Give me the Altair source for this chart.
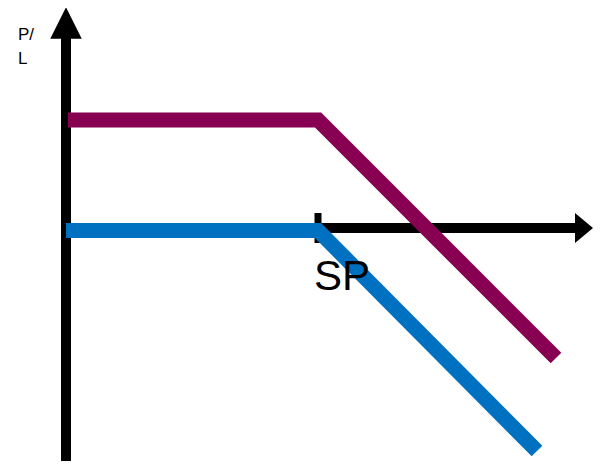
import altair as alt
import pandas as pd

# ---- data (abstract payoff units) ----
SP = 50.4
PURPLE_X = [0.4, SP, 98.0]
PURPLE_Y = [21.6, 21.6, -26.0]
BLUE_X = [0.0, SP, 94.2]
BLUE_Y = [-0.5, -0.5, -44.6]

Y_AXIS_Y = [-48.0, 38.0]      # vertical axis line (at x = 0)
X_AXIS_X = [SP, 102.0]        # horizontal axis line (at y = 0)
TICK_Y = [-3.0, 3.0]          # strike tick (at x = SP)
Y_ARROW = (0.0, 41.0)
X_ARROW = (103.6, 0.0)

Y_LABEL = ["P/", "L"]
X_LABEL = "SP"

W, H = 585, 453
xs = alt.Scale(domain=[-11.6, 105.4], zero=False, nice=False)
ys = alt.Scale(domain=[-46.6, 44.0], zero=False, nice=False)

lines = pd.DataFrame({
    "x": PURPLE_X + BLUE_X,
    "y": PURPLE_Y + BLUE_Y,
    "s": ["purple"] * 3 + ["blue"] * 3,
    "o": [0, 1, 2, 0, 1, 2],
})

yaxis_df = pd.DataFrame({"x": [0.0], "y": [Y_AXIS_Y[0]], "y2": [Y_AXIS_Y[1]]})
xaxis_df = pd.DataFrame({"x": [X_AXIS_X[0]], "x2": [X_AXIS_X[1]], "y": [0.0]})
tick_df = pd.DataFrame({"x": [SP], "y": [TICK_Y[0]], "y2": [TICK_Y[1]]})
yarrow_df = pd.DataFrame({"x": [Y_ARROW[0]], "y": [Y_ARROW[1]]})
xarrow_df = pd.DataFrame({"x": [X_ARROW[0]], "y": [X_ARROW[1]]})

X = lambda: alt.X("x:Q", scale=xs, axis=None)
Y = lambda: alt.Y("y:Q", scale=ys, axis=None)

yaxis = alt.Chart(yaxis_df).mark_rule(color="black", strokeWidth=10).encode(
    x=X(), y=Y(), y2="y2:Q")
xaxis = alt.Chart(xaxis_df).mark_rule(color="black", strokeWidth=10).encode(
    x=X(), x2="x2:Q", y=Y())
tick = alt.Chart(tick_df).mark_rule(color="black", strokeWidth=7).encode(
    x=X(), y=Y(), y2="y2:Q")
yarrow = alt.Chart(yarrow_df).mark_point(
    shape="M0,-1L-1,1L1,1Z", size=992, filled=True, color="black", opacity=1, strokeWidth=0
).encode(x=X(), y=Y())
xarrow = alt.Chart(xarrow_df).mark_point(
    shape="M0.6,0L-0.6,-1L-0.6,1Z", size=900, filled=True, color="black", opacity=1, strokeWidth=0
).encode(x=X(), y=Y())

payoff = alt.Chart(lines).mark_line(strokeWidth=15, strokeCap="butt", strokeJoin="miter").encode(
    x=X(), y=Y(),
    color=alt.Color("s:N", scale=alt.Scale(domain=["purple", "blue"], range=["#880052", "#0070C0"]), legend=None),
    order="o:Q",
)

sp_label = alt.Chart(pd.DataFrame({"t": [X_LABEL]})).mark_text(
    font="Liberation Sans", fontSize=42, align="left", baseline="alphabetic", color="black"
).encode(text="t:N", x=alt.value(306), y=alt.value(282))

pl_label = alt.Chart(pd.DataFrame({"t": [Y_LABEL]})).mark_text(
    font="Liberation Sans", fontSize=17, align="left", baseline="alphabetic", color="black", lineHeight=24
).encode(text="t", x=alt.value(10), y=alt.value(32))

chart = alt.layer(yaxis, xaxis, tick, yarrow, xarrow, payoff, sp_label, pl_label).properties(
    width=W, height=H, padding=0, autosize=alt.AutoSizeParams(type="none"),
).configure_view(stroke=None)

chart.save("out.html", embed_options={"renderer": "svg", "actions": False})
